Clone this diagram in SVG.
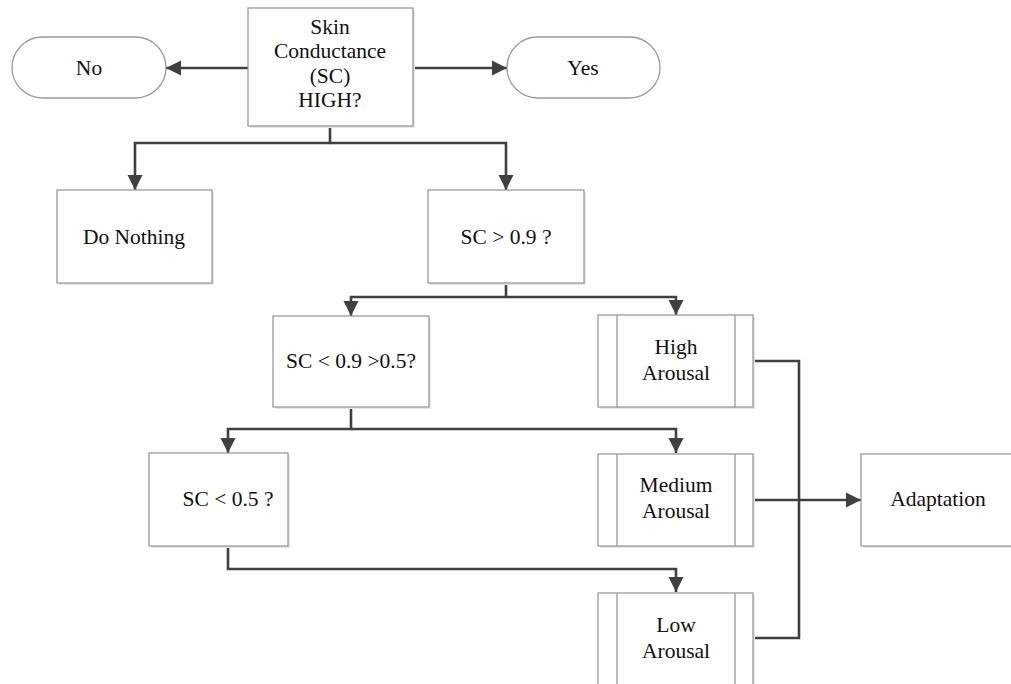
<svg xmlns="http://www.w3.org/2000/svg" width="1011" height="684" viewBox="0 0 1011 684">
  <style>
    .box { fill: #ffffff; stroke: #9a9a9a; stroke-width: 1.3; }
    .shadow { fill: #e6e6e6; stroke: none; }
    .inner { stroke: #9a9a9a; stroke-width: 1.3; fill: none; }
    .lbl { font-family: "Liberation Serif", "Times New Roman", serif; font-size: 21.5px; fill: #111111; text-anchor: middle; dominant-baseline: middle; }
    .conn { fill: none; stroke: #404040; stroke-width: 2.6; }
  </style>
  <defs>
    <marker id="arrow" viewBox="0 0 10 10" refX="10" refY="5" markerWidth="5.8" markerHeight="5.8" markerUnits="strokeWidth" orient="auto">
      <path d="M0,0 L10,5 L0,10 Z" fill="#404040"/>
    </marker>
  </defs>
  <rect width="1011" height="684" fill="#ffffff"/>

  <!-- connectors -->
  <g id="connectors">
    <path class="conn" d="M248,68 H166" marker-end="url(#arrow)"/>
    <path class="conn" d="M413,68 H507" marker-end="url(#arrow)"/>
    <path class="conn" d="M330,126 V143 H135 V190" marker-end="url(#arrow)"/>
    <path class="conn" d="M330,143 H506 V190" marker-end="url(#arrow)"/>
    <path class="conn" d="M506,283 V297 H351 V316" marker-end="url(#arrow)"/>
    <path class="conn" d="M506,297 H676 V315" marker-end="url(#arrow)"/>
    <path class="conn" d="M351,407 V429 H228 V453" marker-end="url(#arrow)"/>
    <path class="conn" d="M351,429 H676 V453" marker-end="url(#arrow)"/>
    <path class="conn" d="M228,546 V569 H676 V592" marker-end="url(#arrow)"/>
    <path class="conn" d="M753,361 H799 V638 H753"/>
    <path class="conn" d="M753,500 H861" marker-end="url(#arrow)"/>
  </g>

  <g id="start">
    <rect class="shadow" x="250" y="10" width="165" height="118"/>
    <rect class="box" x="248" y="8" width="165" height="118"/>
    <text class="lbl" x="330" y="29">Skin</text>
    <text class="lbl" x="330" y="53">Conductance</text>
    <text class="lbl" x="330" y="78">(SC)</text>
    <text class="lbl" x="330" y="102">HIGH?</text>
  </g>

  <g id="no">
    <rect class="box" x="12" y="37" width="154" height="61" rx="30.5" ry="30.5"/>
    <text class="lbl" x="89" y="70">No</text>
  </g>

  <g id="yes">
    <rect class="box" x="507" y="37" width="153" height="61" rx="30.5" ry="30.5"/>
    <text class="lbl" x="583" y="70">Yes</text>
  </g>

  <g id="do-nothing">
    <rect class="shadow" x="59" y="192" width="155" height="93"/>
    <rect class="box" x="57" y="190" width="155" height="93"/>
    <text class="lbl" x="134" y="239">Do Nothing</text>
  </g>

  <g id="sc-gt-09">
    <rect class="shadow" x="430" y="192" width="156" height="93"/>
    <rect class="box" x="428" y="190" width="156" height="93"/>
    <text class="lbl" x="506" y="239">SC &gt; 0.9 ?</text>
  </g>

  <g id="sc-mid">
    <rect class="shadow" x="275" y="318" width="156" height="91"/>
    <rect class="box" x="273" y="316" width="156" height="91"/>
    <text class="lbl" x="351" y="363">SC &lt; 0.9 &gt;0.5?</text>
  </g>

  <g id="high-arousal">
    <rect class="shadow" x="600" y="317" width="155" height="92"/>
    <rect class="box" x="598" y="315" width="155" height="92"/>
    <line class="inner" x1="617" y1="315" x2="617" y2="407"/>
    <line class="inner" x1="735" y1="315" x2="735" y2="407"/>
    <text class="lbl" x="676" y="349">High</text>
    <text class="lbl" x="676" y="375">Arousal</text>
  </g>

  <g id="sc-lt-05">
    <rect class="shadow" x="151" y="455" width="139" height="93"/>
    <rect class="box" x="149" y="453" width="139" height="93"/>
    <text class="lbl" x="228" y="501">SC &lt; 0.5 ?</text>
  </g>

  <g id="medium-arousal">
    <rect class="shadow" x="600" y="456" width="155" height="92"/>
    <rect class="box" x="598" y="454" width="155" height="92"/>
    <line class="inner" x1="617" y1="454" x2="617" y2="546"/>
    <line class="inner" x1="735" y1="454" x2="735" y2="546"/>
    <text class="lbl" x="676" y="487">Medium</text>
    <text class="lbl" x="676" y="513">Arousal</text>
  </g>

  <g id="low-arousal">
    <rect class="shadow" x="600" y="595" width="155" height="92"/>
    <rect class="box" x="598" y="593" width="155" height="92"/>
    <line class="inner" x1="617" y1="593" x2="617" y2="685"/>
    <line class="inner" x1="735" y1="593" x2="735" y2="685"/>
    <text class="lbl" x="676" y="627">Low</text>
    <text class="lbl" x="676" y="653">Arousal</text>
  </g>

  <g id="adaptation">
    <rect class="shadow" x="863" y="456" width="155" height="92"/>
    <rect class="box" x="861" y="454" width="155" height="92"/>
    <text class="lbl" x="938" y="501">Adaptation</text>
  </g>
</svg>
